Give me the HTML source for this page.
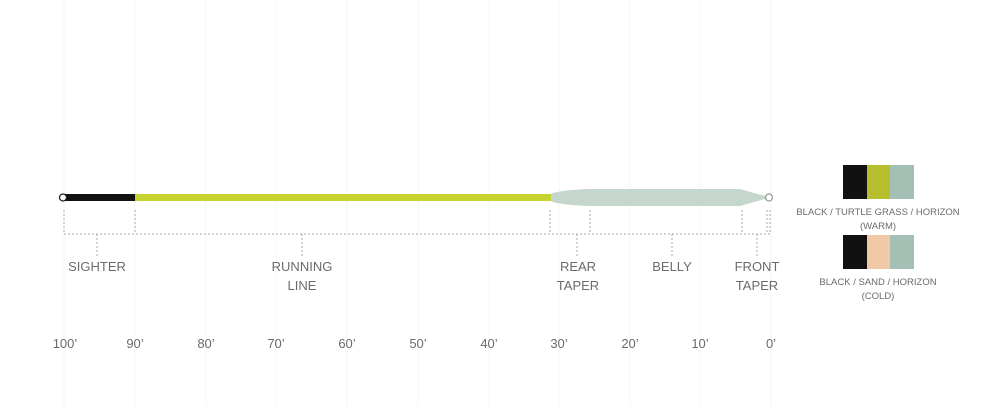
<!DOCTYPE html>
<html><head><style>
body{margin:0;background:#fff;width:1000px;height:406px;overflow:hidden}
text{font-family:"Liberation Sans",sans-serif;fill:#6b6b6b}
</style></head><body>
<svg width="1000" height="406" xmlns="http://www.w3.org/2000/svg">
<g stroke="#f6f6f6" stroke-width="1">
<line x1="64" y1="0" x2="64" y2="406"/><line x1="135" y1="0" x2="135" y2="406"/><line x1="206" y1="0" x2="206" y2="406"/><line x1="276" y1="0" x2="276" y2="406"/><line x1="347" y1="0" x2="347" y2="406"/><line x1="418" y1="0" x2="418" y2="406"/><line x1="489" y1="0" x2="489" y2="406"/><line x1="559" y1="0" x2="559" y2="406"/><line x1="630" y1="0" x2="630" y2="406"/><line x1="700" y1="0" x2="700" y2="406"/><line x1="771" y1="0" x2="771" y2="406"/>
</g>
<path d="M550 194 Q560 190 590 189 L740 189 L765 196 L765 199 L740 206 L590 206 Q560 205 550 201 Z" fill="#c5d6cc"/>
<rect x="135" y="194" width="416" height="7" fill="#c6d22f"/>
<rect x="64" y="194" width="71" height="7" fill="#111"/>
<circle cx="63" cy="197.5" r="3.5" fill="#fff" stroke="#222" stroke-width="1.3"/>
<circle cx="769" cy="197.5" r="3.5" fill="#fff" stroke="#999" stroke-width="1.3"/>
<g stroke="#aaa" stroke-width="1" stroke-dasharray="2,2" fill="none">
<line x1="64" y1="210" x2="64" y2="234"/><line x1="135" y1="210" x2="135" y2="234"/><line x1="550" y1="210" x2="550" y2="234"/><line x1="590" y1="210" x2="590" y2="234"/><line x1="742" y1="210" x2="742" y2="234"/><line x1="767" y1="210" x2="767" y2="234"/><line x1="770" y1="210" x2="770" y2="234"/>
<line x1="64" y1="234" x2="770" y2="234"/>
<line x1="97" y1="234" x2="97" y2="256"/><line x1="302" y1="234" x2="302" y2="256"/><line x1="577" y1="234" x2="577" y2="256"/><line x1="672" y1="234" x2="672" y2="256"/><line x1="757" y1="234" x2="757" y2="256"/>
</g>
<g font-size="13" text-anchor="middle">
<text x="97" y="271">SIGHTER</text>
<text x="302" y="271">RUNNING</text><text x="302" y="290">LINE</text>
<text x="578" y="271">REAR</text><text x="578" y="290">TAPER</text>
<text x="672" y="271">BELLY</text>
<text x="757" y="271">FRONT</text><text x="757" y="290">TAPER</text>
</g>
<g font-size="13" text-anchor="middle">
<text x="65" y="348">100’</text><text x="135" y="348">90’</text><text x="206" y="348">80’</text><text x="276" y="348">70’</text><text x="347" y="348">60’</text><text x="418" y="348">50’</text><text x="489" y="348">40’</text><text x="559" y="348">30’</text><text x="630" y="348">20’</text><text x="700" y="348">10’</text><text x="771" y="348">0’</text>
</g>
<rect x="843" y="165" width="24" height="34" fill="#111"/><rect x="867" y="165" width="23" height="34" fill="#b6be2e"/><rect x="890" y="165" width="24" height="34" fill="#a4bfb3"/>
<rect x="843" y="235" width="24" height="34" fill="#111"/><rect x="867" y="235" width="23" height="34" fill="#f0c9a6"/><rect x="890" y="235" width="24" height="34" fill="#a4bfb3"/>
<g font-size="9.5" text-anchor="middle">
<text x="878" y="215">BLACK / TURTLE GRASS / HORIZON</text><text x="878" y="229">(WARM)</text>
<text x="878" y="285">BLACK / SAND / HORIZON</text><text x="878" y="299">(COLD)</text>
</g>
</svg>
</body></html>
